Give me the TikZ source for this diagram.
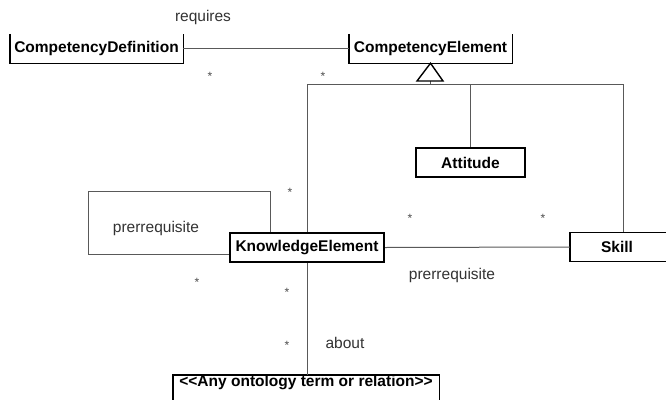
\documentclass[tikz,border=0pt]{standalone}
\usepackage{fontspec}
\setmainfont{Liberation Sans}
\usetikzlibrary{calc, positioning}

\tikzset{
  classbox/.style={inner sep=0pt, font=\fontsize{15.5}{18}\selectfont\bfseries},
  assoc/.style={draw=black!65, line width=1pt},
  rolelabel/.style={inner sep=0pt, font=\fontsize{15.5}{18}\selectfont, text=black!80},
  mult/.style={inner sep=0pt, font=\fontsize{12}{12}\selectfont, text=black!70}
}

\begin{document}
\begin{tikzpicture}[x=1pt, y=-1pt]
          \useasboundingbox[fill=white] (0,0) rectangle (666,399);
          % Classes
          \node[classbox, minimum width=173, minimum height=29] (cdef) at (96.5,48.5) {CompetencyDefinition};
          \node[classbox, minimum width=163, minimum height=29] (celem) at (430.5,48.5) {CompetencyElement};
          \node[classbox, draw, line width=1.4pt, minimum width=109, minimum height=29] (att) at (470.5,162.5) {Attitude};
          \node[classbox, draw, line width=2pt, minimum width=154, minimum height=29] (know) at (307,247.5) {KnowledgeElement};
          \node[classbox, minimum width=130, minimum height=29] (skill) at (635,247) {};
          \node[classbox] at (617,247) {Skill};
          \node[classbox, minimum width=266, minimum height=16] (onto) at (306,383) {<{}<Any ontology term or relation>{}>};
          % open boxes (cut at the top or the side)
          \draw[line width=1.4pt] (cdef.north west) |- (cdef.south east) -- (cdef.north east);
          \draw[line width=1.4pt] (celem.north west) |- (celem.south east) -- (celem.north east);
          \draw[line width=1.4pt] (skill.north east) -| (skill.south west) -- (skill.south east);
          \draw[line width=1.4pt] (onto.west |- 0,405) |- (onto.north east) -- (onto.east |- 0,405);
          % Association requires
          \draw[assoc] (cdef.east) -- (celem.west);
          \node[rolelabel] (req) at (203,17) {requires};
          \node[mult] (m1) at (210,76) {*};
          \node[mult] (m2) at (323,76) {*};
          % Generalization
          \coordinate (tbase) at (430,81);
          \coordinate (bus) at (430,84);
          \coordinate (busend) at (623,84);
          \draw[assoc] (tbase) -- (bus);
          \draw[line width=1.4pt, fill=white] (celem.south) -- (417,81) -- (443,81) -- cycle;
          \draw[assoc] (know.north |- bus) -- (busend);
          \draw[assoc] (know.north |- bus) -- (know.north);
          \draw[assoc] (att.north |- bus) -- (att.north);
          \draw[assoc] (busend) -- (skill.north -| busend);
          % Self association prerrequisite
          \draw[assoc] (know.west |- 0,254) -| (88,191) -| (know.north -| 270,0);
          \node[rolelabel] (pre1) at (156,228) {prerrequisite};
          \node[mult] (m3) at (290,192) {*};
          \node[mult] (m4) at (197,282) {*};
          % Association prerrequisite
          \draw[assoc] (know.east) -- (skill.west);
          \node[rolelabel] (pre2) at (452,275) {prerrequisite};
          \node[mult] (m5) at (410,218) {*};
          \node[mult] (m6) at (543,218) {*};
          % Association about
          \draw[assoc] (know.south) -- (know.south |- onto.north);
          \node[rolelabel] (about) at (345,343) {about};
          \node[mult] (m7) at (287,292) {*};
          \node[mult] (m8) at (287,345) {*};
        \end{tikzpicture}
\end{document}
